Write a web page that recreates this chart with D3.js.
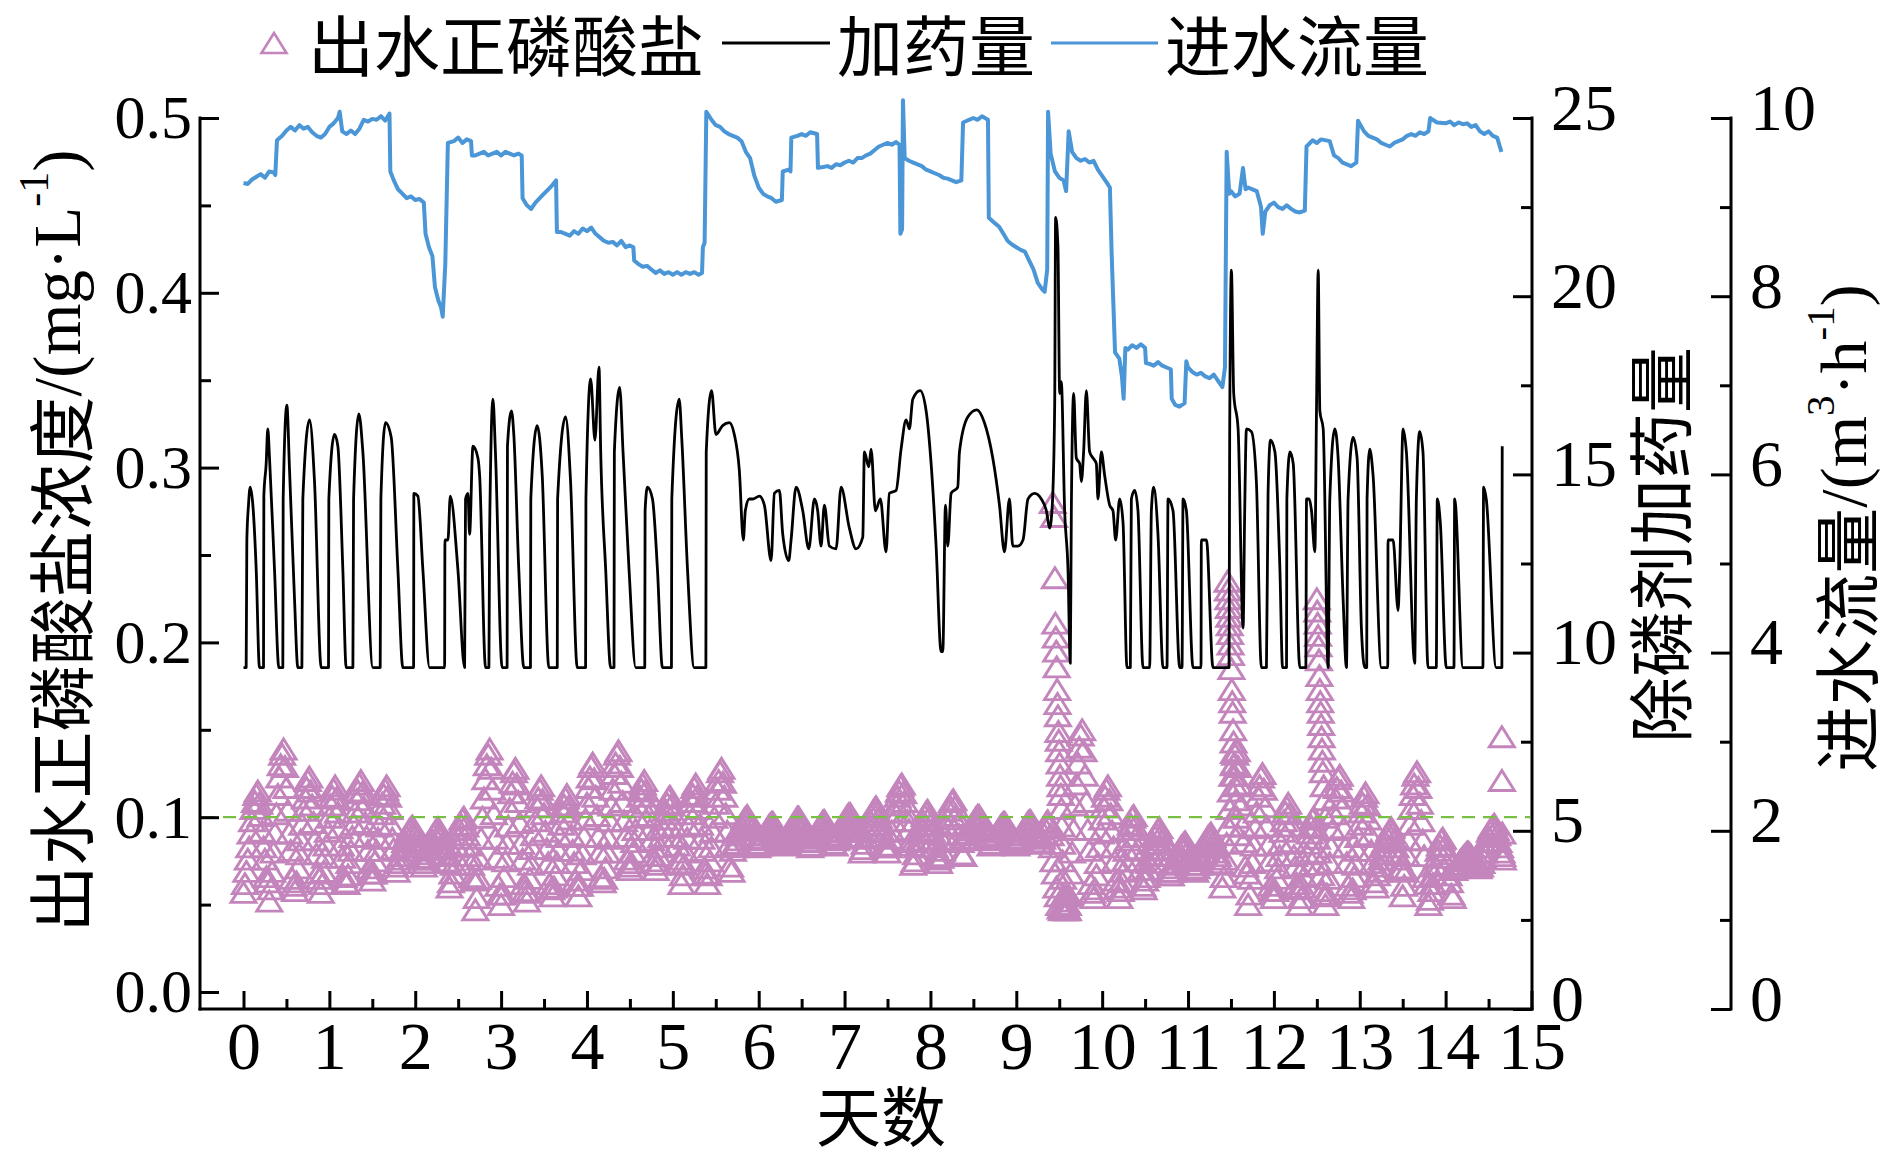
<!DOCTYPE html>
<html><head><meta charset="utf-8">
<script src="https://cdn.jsdelivr.net/npm/d3@7/dist/d3.min.js"></script>
<style>body{margin:0;background:#fff}svg{display:block}</style>
</head><body>
<svg id="c" width="1887" height="1160"></svg>
<script>
// ---------------- DATA ----------------
const xTickValues = [0,1,2,3,4,5,6,7,8,9,10,11,12,13,14,15];
const xTickLabels = ["0","1","2","3","4","5","6","7","8","9","10","11","12","13","14","15"];
const pTickValues = [0,0.1,0.2,0.3,0.4,0.5];
const pTickLabels = ["0.0","0.1","0.2","0.3","0.4","0.5"];
const doseTickValues = [0,5,10,15,20,25];
const flowTickValues = [0,2,4,6,8,10];
const limitValue = 0.1;

const legendLabels = ["出水正磷酸盐","加药量","进水流量"];

// inflow (m3/h): [day, value]
const flowSeries = [
[0,9.27],[0.05,9.26],[0.1,9.31],[0.15,9.34],[0.2,9.37],[0.25,9.33],[0.3,9.40],[0.35,9.39],[0.37,9.36],[0.39,9.75],[0.45,9.80],[0.5,9.86],[0.55,9.90],[0.6,9.86],[0.65,9.92],[0.7,9.88],[0.75,9.90],[0.8,9.84],[0.85,9.80],[0.9,9.78],[0.95,9.82],[1.0,9.90],[1.05,9.94],[1.1,10.0],[1.12,10.07],[1.15,9.85],[1.2,9.82],[1.25,9.86],[1.3,9.82],[1.35,9.88],[1.4,9.98],[1.45,9.96],[1.5,9.99],[1.55,9.98],[1.6,10.02],[1.65,9.97],[1.7,10.05],[1.71,9.40],[1.75,9.30],[1.8,9.20],[1.85,9.15],[1.9,9.10],[1.95,9.12],[2.0,9.08],[2.05,9.09],[2.1,9.05],[2.12,8.70],[2.16,8.55],[2.2,8.45],[2.23,8.10],[2.27,7.95],[2.3,7.88],[2.32,7.77],[2.35,8.36],[2.38,9.72],[2.45,9.74],[2.5,9.78],[2.55,9.72],[2.6,9.76],[2.65,9.74],[2.66,9.58],[2.7,9.58],[2.75,9.60],[2.8,9.62],[2.85,9.58],[2.9,9.60],[2.95,9.62],[3.0,9.58],[3.05,9.62],[3.1,9.60],[3.15,9.58],[3.2,9.60],[3.24,9.58],[3.25,9.10],[3.3,9.02],[3.35,8.98],[3.4,9.05],[3.45,9.10],[3.5,9.15],[3.55,9.20],[3.6,9.25],[3.64,9.30],[3.65,8.72],[3.7,8.72],[3.75,8.70],[3.8,8.68],[3.85,8.73],[3.9,8.70],[3.95,8.76],[4.0,8.73],[4.05,8.77],[4.1,8.70],[4.15,8.66],[4.2,8.62],[4.25,8.60],[4.3,8.61],[4.35,8.57],[4.4,8.62],[4.45,8.55],[4.5,8.57],[4.54,8.55],[4.55,8.40],[4.6,8.36],[4.65,8.33],[4.7,8.34],[4.75,8.30],[4.8,8.26],[4.85,8.29],[4.9,8.25],[4.95,8.27],[5.0,8.24],[5.05,8.27],[5.1,8.24],[5.15,8.27],[5.2,8.25],[5.25,8.27],[5.3,8.24],[5.34,8.26],[5.35,8.55],[5.37,8.60],[5.39,10.07],[5.45,9.98],[5.5,9.92],[5.55,9.90],[5.6,9.85],[5.65,9.82],[5.7,9.80],[5.75,9.78],[5.8,9.74],[5.85,9.62],[5.9,9.55],[5.95,9.35],[6.0,9.22],[6.05,9.15],[6.1,9.12],[6.15,9.10],[6.2,9.06],[6.27,9.08],[6.28,9.40],[6.35,9.42],[6.37,9.40],[6.38,9.78],[6.45,9.80],[6.5,9.82],[6.55,9.80],[6.6,9.84],[6.68,9.82],[6.69,9.44],[6.75,9.45],[6.8,9.46],[6.85,9.44],[6.9,9.48],[6.95,9.47],[7.0,9.50],[7.05,9.52],[7.1,9.50],[7.15,9.55],[7.2,9.55],[7.25,9.58],[7.3,9.60],[7.35,9.64],[7.4,9.68],[7.45,9.70],[7.5,9.72],[7.55,9.70],[7.6,9.73],[7.64,9.70],[7.65,8.70],[7.67,8.75],[7.68,10.2],[7.70,9.55],[7.75,9.52],[7.8,9.50],[7.85,9.48],[7.9,9.46],[7.95,9.42],[8.0,9.40],[8.05,9.38],[8.1,9.36],[8.15,9.33],[8.2,9.32],[8.25,9.30],[8.3,9.28],[8.36,9.30],[8.38,9.95],[8.45,9.98],[8.5,10.0],[8.55,9.98],[8.6,10.02],[8.67,9.98],[8.68,8.88],[8.75,8.82],[8.8,8.78],[8.85,8.70],[8.9,8.62],[8.95,8.58],[9.0,8.55],[9.05,8.52],[9.1,8.50],[9.15,8.40],[9.2,8.30],[9.25,8.15],[9.3,8.08],[9.33,8.05],[9.36,8.30],[9.37,10.07],[9.40,9.60],[9.45,9.40],[9.5,9.33],[9.55,9.30],[9.58,9.18],[9.61,9.85],[9.65,9.62],[9.7,9.55],[9.75,9.52],[9.8,9.54],[9.85,9.50],[9.9,9.52],[9.95,9.42],[10.0,9.35],[10.05,9.28],[10.09,9.22],[10.11,8.49],[10.15,7.37],[10.2,7.30],[10.23,7.10],[10.25,6.85],[10.27,7.42],[10.3,7.40],[10.35,7.45],[10.4,7.42],[10.45,7.46],[10.5,7.42],[10.51,7.25],[10.55,7.24],[10.6,7.22],[10.65,7.26],[10.7,7.22],[10.75,7.20],[10.8,7.18],[10.81,6.85],[10.85,6.78],[10.9,6.76],[10.96,6.80],[10.98,7.27],[11.0,7.20],[11.05,7.15],[11.1,7.12],[11.15,7.14],[11.2,7.10],[11.25,7.08],[11.3,7.12],[11.35,7.05],[11.4,6.98],[11.43,7.20],[11.45,9.62],[11.48,9.15],[11.5,9.18],[11.55,9.12],[11.6,9.15],[11.64,9.44],[11.67,9.20],[11.7,9.22],[11.75,9.20],[11.8,9.18],[11.85,9.00],[11.87,8.70],[11.9,8.95],[11.95,9.02],[12.0,9.05],[12.05,9.00],[12.1,8.98],[12.15,9.02],[12.2,8.98],[12.25,8.95],[12.3,8.94],[12.36,8.96],[12.38,9.68],[12.45,9.75],[12.5,9.72],[12.55,9.76],[12.65,9.74],[12.7,9.58],[12.75,9.55],[12.8,9.50],[12.85,9.48],[12.9,9.46],[12.96,9.50],[12.98,9.97],[13.05,9.85],[13.1,9.80],[13.15,9.78],[13.2,9.76],[13.25,9.72],[13.3,9.70],[13.35,9.68],[13.4,9.72],[13.45,9.74],[13.5,9.76],[13.55,9.80],[13.6,9.82],[13.65,9.80],[13.7,9.84],[13.75,9.82],[13.8,9.85],[13.82,10.0],[13.85,9.98],[13.9,9.95],[14.0,9.94],[14.05,9.96],[14.1,9.92],[14.15,9.95],[14.2,9.93],[14.25,9.94],[14.3,9.90],[14.35,9.92],[14.4,9.85],[14.45,9.82],[14.5,9.85],[14.55,9.80],[14.6,9.78],[14.65,9.62]
];

// dosing: [day, value]
const doseSeries = [
[0,9.58],[0.031,9.58],[0.039,13.16],[0.058,14.14],[0.078,14.64],[0.109,14.14],[0.148,12.33],[0.186,9.58],[0.233,9.58],[0.237,14.39],[0.264,15.30],[0.283,16.28],[0.303,15.46],[0.361,12.33],[0.412,9.58],[0.458,9.58],[0.462,14.31],[0.505,16.94],[0.536,15.13],[0.594,11.51],[0.633,9.58],[0.680,9.58],[0.691,14.31],[0.769,16.53],[0.827,14.80],[0.905,9.58],[0.990,9.58],[0.994,14.31],[1.060,16.12],[1.099,15.79],[1.157,12.33],[1.196,9.58],[1.274,9.58],[1.282,14.31],[1.344,16.70],[1.390,15.63],[1.507,9.58],[1.592,9.58],[1.600,14.31],[1.654,16.45],[1.720,16.04],[1.798,12.33],[1.856,9.58],[1.981,9.58],[1.984,14.47],[2.031,14.39],[2.089,12.33],[2.167,9.58],[2.342,9.58],[2.346,13.16],[2.381,13.16],[2.408,14.39],[2.497,12.33],[2.575,9.58],[2.586,14.31],[2.614,14.47],[2.633,13.32],[2.672,15.79],[2.730,15.46],[2.750,14.97],[2.819,9.58],[2.858,9.58],[2.866,13.32],[2.905,17.11],[2.934,15.63],[3.012,9.58],[3.070,9.58],[3.074,15.79],[3.121,16.78],[3.148,16.12],[3.206,12.33],[3.265,9.58],[3.342,9.58],[3.346,14.31],[3.420,16.37],[3.479,14.97],[3.556,9.58],[3.654,9.58],[3.658,14.31],[3.751,16.61],[3.809,14.80],[3.887,9.58],[3.984,9.58],[3.988,14.31],[4.043,17.68],[4.093,15.96],[4.140,18.01],[4.160,15.63],[4.218,12.33],[4.276,9.58],[4.315,9.58],[4.319,15.63],[4.381,17.44],[4.420,15.63],[4.490,12.33],[4.568,9.58],[4.673,9.58],[4.677,13.98],[4.704,14.64],[4.763,14.31],[4.821,12.33],[4.879,9.58],[4.984,9.58],[4.988,14.31],[5.074,17.11],[5.105,15.96],[5.171,12.33],[5.249,9.58],[5.385,9.58],[5.389,15.63],[5.451,17.35],[5.502,16.12],[5.580,16.37],[5.658,16.45],[5.716,16.12],[5.774,15.13],[5.821,13.16],[5.844,13.98],[5.891,14.31],[5.930,14.31],[6.008,14.39],[6.066,14.14],[6.144,12.58],[6.183,14.47],[6.241,14.55],[6.280,13.32],[6.350,12.58],[6.377,13.16],[6.435,14.64],[6.513,13.98],[6.583,12.91],[6.649,14.31],[6.687,13.98],[6.726,12.99],[6.765,14.14],[6.823,12.99],[6.901,12.91],[6.959,14.64],[7.056,13.49],[7.134,12.91],[7.212,13.24],[7.231,15.63],[7.282,15.21],[7.309,15.71],[7.359,13.98],[7.417,14.31],[7.483,12.83],[7.522,14.47],[7.600,14.55],[7.658,15.71],[7.717,16.53],[7.755,16.28],[7.794,17.11],[7.880,17.35],[7.950,16.78],[8.008,15.30],[8.066,12.99],[8.124,10.03],[8.144,10.03],[8.175,14.14],[8.202,12.99],[8.241,14.47],[8.318,14.64],[8.338,15.63],[8.435,16.61],[8.540,16.81],[8.629,16.45],[8.726,15.46],[8.804,14.14],[8.862,12.83],[8.920,14.31],[8.959,12.99],[9.019,12.99],[9.078,13.16],[9.136,14.31],[9.214,14.47],[9.291,14.31],[9.350,13.98],[9.388,13.49],[9.419,14.14],[9.447,16.94],[9.458,22.21],[9.485,21.39],[9.505,17.27],[9.524,17.6],[9.563,13.98],[9.602,12.33],[9.629,9.70],[9.641,13.98],[9.668,17.27],[9.699,15.46],[9.738,15.30],[9.757,14.80],[9.784,15.63],[9.816,17.35],[9.854,15.63],[9.893,15.46],[9.932,15.30],[9.951,14.31],[9.990,15.63],[10.029,14.97],[10.087,14.14],[10.126,13.98],[10.157,13.16],[10.204,14.31],[10.243,13.65],[10.289,9.58],[10.328,9.58],[10.340,14.31],[10.379,14.55],[10.417,13.98],[10.476,9.58],[10.553,9.58],[10.573,13.98],[10.600,14.64],[10.650,13.32],[10.709,9.58],[10.755,9.58],[10.767,14.31],[10.825,13.98],[10.903,9.58],[10.930,9.58],[10.942,14.31],[10.981,13.98],[11.058,9.58],[11.151,9.58],[11.155,13.16],[11.214,13.16],[11.291,9.58],[11.478,9.58],[11.485,16.12],[11.505,20.73],[11.532,17.27],[11.583,16.28],[11.641,10.69],[11.660,13.98],[11.680,16.28],[11.738,16.20],[11.796,14.80],[11.854,9.58],[11.913,9.58],[11.932,14.47],[11.960,15.96],[12.012,15.63],[12.070,12.33],[12.101,9.58],[12.147,9.58],[12.151,14.31],[12.186,15.63],[12.225,15.30],[12.302,9.58],[12.372,9.58],[12.380,14.31],[12.411,14.31],[12.438,13.98],[12.477,12.83],[12.496,16.78],[12.516,20.73],[12.535,16.78],[12.574,16.28],[12.632,9.58],[12.651,14.31],[12.709,16.28],[12.748,15.46],[12.806,11.51],[12.845,9.58],[12.864,14.31],[12.922,16.04],[12.969,15.46],[13.019,10.69],[13.058,9.58],[13.081,9.58],[13.085,14.31],[13.116,15.71],[13.155,14.97],[13.252,9.58],[13.326,9.58],[13.329,13.16],[13.388,13.16],[13.446,11.18],[13.465,12.33],[13.504,16.28],[13.543,15.63],[13.640,9.70],[13.659,14.31],[13.698,16.20],[13.736,15.63],[13.795,9.58],[13.891,9.58],[13.903,14.31],[13.938,13.65],[14.008,9.58],[14.097,9.58],[14.105,14.31],[14.202,9.58],[14.434,9.58],[14.442,14.64],[14.473,14.31],[14.589,9.58],[14.655,9.58],[14.659,15.79]
];

// effluent orthophosphate (mg/L), sampled every 1/30 day from day 0
const phosphateStep = 1/30;
const phosphateVals = [
.057,.069,.083,.098,.109,.115,.101,.083,.066,
.052,.069,.091,.113,.130,.139,.117,.091,.065,
.058,.071,.087,.104,.117,.123,.107,.087,.068,
.057,.069,.084,.100,.112,.118,.103,.084,.066,
.062,.074,.089,.103,.115,.121,.106,.089,.071,
.064,.075,.088,.102,.113,.118,.105,.088,.072,
.074,.078,.083,.089,.093,.095,.090,.083,.077,
.072,.076,.082,.087,.092,.094,.089,.082,.075,
.060,.068,.078,.088,.096,.100,.090,.078,.066,
.047,.065,.088,.111,.130,.139,.116,.088,.061,
.050,.066,.085,.105,.120,.128,.109,.085,.062,
.052,.065,.082,.098,.111,.118,.102,.082,.062,
.055,.067,.081,.096,.107,.113,.099,.081,.064,
.055,.070,.089,.108,.123,.131,.112,.089,.066,
.065,.080,.098,.116,.131,.138,.120,.098,.076,
.070,.080,.093,.106,.116,.121,.108,.093,.078,
.070,.078,.089,.099,.108,.112,.102,.089,.076,
.062,.073,.088,.102,.113,.119,.105,.088,.071,
.062,.075,.092,.108,.121,.128,.112,.092,.072,
.081,.085,.090,.095,.099,.101,.096,.090,.084,
.084,.087,.090,.093,.096,.097,.094,.090,.086,
.084,.087,.091,.095,.098,.100,.096,.091,.086,
.083,.086,.090,.094,.096,.098,.094,.089,.085,
.087,.090,.094,.098,.101,.102,.098,.094,.089,
.080,.085,.092,.098,.103,.106,.100,.092,.084,
.080,.088,.098,.107,.115,.119,.109,.098,.086,
.073,.079,.087,.095,.101,.104,.096,.087,.078,
.074,.081,.090,.099,.106,.110,.101,.090,.079,
.087,.090,.093,.097,.100,.101,.098,.093,.089,
.084,.087,.090,.093,.096,.097,.094,.090,.086,
.084,.087,.090,.094,.097,.098,.095,.090,.086,
.088,.094,.098,.090,.075,.060,.050,.047,.052,
.047,.068,.093,.119,.140,.150,.124,.093,.062,
.054,.067,.083,.099,.112,.118,.102,.083,.064,
.054,.063,.075,.087,.096,.101,.089,.075,.061,
.064,.070,.078,.085,.091,.094,.087,.078,.069,
.067,.071,.076,.080,.084,.086,.081,.076,.070,
.071,.075,.080,.085,.089,.091,.086,.080,.074,
.060,.076,.095,.115,.130,.138,.119,.095,.072,
.050,.065,.084,.103,.118,.125,.106,.084,.061,
.054,.065,.078,.092,.103,.108,.095,.078,.062,
.050,.060,.073,.085,.095,.100,.088,.073,.058,
.050,.065,.083,.102,.117,.124,.106,.083,.061,
.054,.066,.081,.096,.108,.114,.099,.081,.063,
.067,.072,.079,.086,.091,.094,.087,.079,.071,
.055,.069,.087,.105,.119,.126,.108,.087,.066,
.050,.058,.067,.077,.084,.088,.079,.067,.056,
.070,.072,.075,.077,.079,.080,.078,.075,.072,
.072,.077,.083,.089,.094,.096,.090,.083,.076
];
// readings taken half a step later than the ones above (day = (i+0.5)/30)
const phosphateValsHalf = [
.062,.076,.091,.105,.113,.108,.092,.076,.063,
.059,.080,.102,.123,.136,.129,.104,.081,.061,
.063,.079,.096,.111,.121,.115,.097,.079,.065,
.062,.077,.092,.107,.116,.111,.094,.077,.063,
.067,.081,.096,.110,.119,.114,.097,.081,.068,
.068,.081,.095,.108,.116,.112,.096,.082,.069,
.076,.081,.086,.091,.094,.092,.087,.081,.076,
.074,.079,.085,.090,.093,.091,.085,.079,.074,
.063,.073,.083,.093,.099,.095,.084,.073,.064,
.054,.076,.100,.122,.136,.128,.102,.077,.056,
.056,.075,.095,.114,.126,.119,.097,.076,.058,
.057,.073,.090,.106,.116,.110,.092,.074,.059,
.060,.074,.089,.103,.111,.106,.090,.074,.061,
.061,.079,.099,.117,.129,.122,.101,.080,.063,
.071,.088,.107,.125,.136,.129,.109,.089,.072,
.074,.086,.100,.112,.119,.115,.101,.087,.075,
.073,.083,.094,.104,.111,.107,.095,.084,.074,
.067,.080,.095,.109,.117,.112,.096,.081,.068,
.067,.083,.100,.116,.126,.120,.102,.084,.069,
.083,.087,.093,.097,.100,.099,.093,.088,.083,
.085,.088,.092,.095,.097,.095,.092,.088,.085,
.085,.089,.093,.097,.100,.098,.094,.089,.086,
.084,.088,.092,.095,.098,.096,.092,.088,.084,
.088,.092,.096,.099,.102,.100,.096,.092,.089,
.082,.088,.095,.101,.105,.103,.096,.089,.083,
.083,.092,.103,.112,.118,.114,.103,.093,.084,
.075,.083,.091,.098,.103,.100,.092,.083,.076,
.077,.086,.095,.104,.109,.106,.096,.086,.078,
.088,.091,.095,.098,.101,.099,.095,.092,.088,
.085,.088,.092,.095,.097,.095,.092,.088,.085,
.085,.088,.092,.095,.098,.096,.092,.089,.085,
.091,.097,.095,.083,.068,.055,.048,.049,.055,
.055,.080,.107,.131,.147,.138,.109,.081,.057,
.059,.074,.091,.106,.116,.110,.092,.075,.060,
.058,.069,.081,.093,.100,.095,.082,.070,.059,
.066,.074,.081,.089,.093,.090,.082,.074,.067,
.069,.073,.078,.083,.085,.084,.078,.073,.069,
.073,.077,.083,.087,.090,.089,.083,.078,.073,
.066,.085,.105,.124,.136,.129,.107,.086,.068,
.056,.074,.094,.112,.123,.116,.095,.075,.058,
.058,.071,.085,.098,.106,.102,.086,.072,.059,
.054,.066,.079,.091,.099,.094,.080,.067,.055,
.056,.074,.093,.111,.122,.115,.094,.074,.057,
.059,.073,.089,.103,.112,.107,.090,.074,.060,
.069,.076,.083,.089,.093,.091,.083,.076,.070,
.061,.078,.096,.113,.124,.117,.098,.078,.062,
.053,.062,.072,.081,.087,.083,.073,.063,.054,
.071,.073,.076,.078,.080,.079,.076,.073,.071,
.074,.080,.086,.092,.095,.093,.086,.080
];
// extra dense readings during the three spikes and at the last time point: [day, value]
const phosphateExtra = [
[9.425,0.280],[9.44,0.272],[9.45,0.237],[9.455,0.211],[9.46,0.203],[9.465,0.195],[9.47,0.186],[9.475,0.173],[9.48,0.165],[9.485,0.158],[9.49,0.149],[9.495,0.144],[9.50,0.138],[9.505,0.131],[9.51,0.124],[9.515,0.118],[9.52,0.113],[9.525,0.105],[9.53,0.095],[9.535,0.085],[9.54,0.075],[9.545,0.065],[9.55,0.055],[9.56,0.048],[9.58,0.047],[9.60,0.050],
[11.46,0.235],[11.465,0.230],[11.47,0.225],[11.475,0.220],[11.48,0.215],[11.485,0.210],[11.49,0.205],[11.495,0.199],[11.50,0.193],[11.505,0.185],[11.51,0.173],[11.515,0.166],[11.52,0.160],[11.525,0.150],[11.53,0.143],[11.535,0.137],[11.54,0.131],[11.545,0.124],[11.55,0.118],[11.56,0.110],[11.57,0.100],[11.58,0.090],
[12.50,0.225],[12.505,0.218],[12.51,0.211],[12.515,0.204],[12.52,0.198],[12.525,0.190],[12.53,0.181],[12.535,0.173],[12.54,0.166],[12.545,0.160],[12.55,0.153],[12.555,0.146],[12.56,0.139],[12.565,0.132],[12.57,0.126],[12.58,0.118],[12.59,0.110],[12.60,0.100],
[14.655,0.146],[14.655,0.121],[14.66,0.091],[14.66,0.078]
];

// ---------------- DRAW ----------------
const PINK = "#c385bc", BLUE = "#4b96d6", GREEN = "#77c043";
const SERIF = "'Liberation Serif','Times New Roman',serif";
const CJK = "'Liberation Serif','Noto Sans CJK SC',serif";

const svg = d3.select("#c");
const x  = d3.scaleLinear().domain([0,15]).range([243.5,1531.5]);
const yP = d3.scaleLinear().domain([0,0.5]).range([992,118]);
const yD = d3.scaleLinear().domain([0,25]).range([1009,118]);
const yF = d3.scaleLinear().domain([0,10]).range([1009,118]);

const axL = 200, axB = 1009, axR1 = 1532, axR2 = 1731, axT = 118;

// phosphate triangles
const pPoints = phosphateVals.map((v,i)=>[i*phosphateStep, v])
  .concat(phosphateValsHalf.map((v,i)=>[(i+0.5)*phosphateStep, v]))
  .concat(phosphateExtra);
const tri = "M0,-10L12.5,10L-12.5,10Z";
svg.append("g").selectAll("path").data(pPoints).join("path")
  .attr("d", tri)
  .attr("transform", d=>`translate(${x(d[0])},${yP(d[1])})`)
  .attr("fill","none").attr("stroke",PINK).attr("stroke-width",2.9);

// limit line
svg.append("line").attr("x1",axL+2).attr("x2",axR1-2)
  .attr("y1",yP(limitValue)).attr("y2",yP(limitValue))
  .attr("stroke",GREEN).attr("stroke-width",2.2).attr("stroke-dasharray","13,8");

// dose line
svg.append("path").datum(doseSeries)
  .attr("d", d3.line().curve(d3.curveMonotoneX).x(d=>x(d[0])).y(d=>yD(d[1])))
  .attr("fill","none").attr("stroke","#000").attr("stroke-width",2.8).attr("stroke-linejoin","round");

// flow line
svg.append("path").datum(flowSeries)
  .attr("d", d3.line().x(d=>x(d[0])).y(d=>yF(d[1])))
  .attr("fill","none").attr("stroke",BLUE).attr("stroke-width",4).attr("stroke-linejoin","round");

// ---- axes ----
function styleAxis(g, fs){
  g.select(".domain").remove();
  g.selectAll(".tick line").attr("stroke","#000").attr("stroke-width",3);
  g.selectAll("text").attr("font-family",SERIF).attr("font-size",fs).attr("fill","#000");
}
const gl = svg.append("g").attr("transform",`translate(${axL},0)`)
  .call(d3.axisLeft(yP).tickValues(pTickValues).tickFormat((d,i)=>pTickLabels[i]).tickSizeInner(-19).tickSizeOuter(0).tickPadding(8));
styleAxis(gl, 62);
const glm = svg.append("g").attr("transform",`translate(${axL},0)`)
  .call(d3.axisLeft(yP).tickValues([0.05,0.15,0.25,0.35,0.45]).tickFormat("").tickSizeInner(-11).tickSizeOuter(0));
styleAxis(glm, 10);
const gb = svg.append("g").attr("transform",`translate(0,${axB})`)
  .call(d3.axisBottom(x).tickValues(xTickValues).tickFormat((d,i)=>xTickLabels[i]).tickSizeInner(-18).tickSizeOuter(0).tickPadding(12));
styleAxis(gb, 68);
const gbm = svg.append("g").attr("transform",`translate(0,${axB})`)
  .call(d3.axisBottom(x).tickValues(d3.range(0.5,15,1)).tickFormat("").tickSizeInner(-10).tickSizeOuter(0));
styleAxis(gbm, 10);
const gr1 = svg.append("g").attr("transform",`translate(${axR1},0)`)
  .call(d3.axisRight(yD).tickValues(doseTickValues).tickSizeInner(-19).tickSizeOuter(0).tickPadding(19));
styleAxis(gr1, 66);
gr1.selectAll("text").attr("y",-10);
const gr1m = svg.append("g").attr("transform",`translate(${axR1},0)`)
  .call(d3.axisRight(yD).tickValues([2.5,7.5,12.5,17.5,22.5]).tickFormat("").tickSizeInner(-11).tickSizeOuter(0));
styleAxis(gr1m, 10);
const gr2 = svg.append("g").attr("transform",`translate(${axR2},0)`)
  .call(d3.axisRight(yF).tickValues(flowTickValues).tickSizeInner(-20).tickSizeOuter(0).tickPadding(19));
styleAxis(gr2, 66);
gr2.selectAll("text").attr("y",-10);
const gr2m = svg.append("g").attr("transform",`translate(${axR2},0)`)
  .call(d3.axisRight(yF).tickValues([1,3,5,7,9]).tickFormat("").tickSizeInner(-11).tickSizeOuter(0));
styleAxis(gr2m, 10);

const al = svg.append("g").attr("stroke","#000").attr("stroke-width",3).attr("stroke-linecap","square");
al.append("line").attr("x1",axL).attr("x2",axL).attr("y1",axT).attr("y2",axB);
al.append("line").attr("x1",axL).attr("x2",axR1).attr("y1",axB).attr("y2",axB);
al.append("line").attr("x1",axR1).attr("x2",axR1).attr("y1",axT).attr("y2",axB);
al.append("line").attr("x1",axR2).attr("x2",axR2).attr("y1",axT).attr("y2",axB);

// ---- titles ----
const t1 = svg.append("text").attr("transform","translate(57,541) rotate(-90)")
  .attr("text-anchor","middle").attr("dominant-baseline","central")
  .attr("font-family",CJK).attr("font-size",67);
t1.append("tspan").attr("font-family","'Noto Sans CJK SC'").text("出水正磷酸盐浓度");
t1.append("tspan").text("/(mg·L");
t1.append("tspan").attr("font-size",42).attr("dy",-23).text("-1");
t1.append("tspan").attr("dy",23).text(")");

svg.append("text").attr("transform","translate(1657,545) rotate(-90)")
  .attr("text-anchor","middle").attr("dominant-baseline","central")
  .attr("font-family","'Noto Sans CJK SC'").attr("font-size",66).text("除磷剂加药量");

const t3 = svg.append("text").attr("transform","translate(1843,528) rotate(-90)")
  .attr("text-anchor","middle").attr("dominant-baseline","central")
  .attr("font-family",CJK).attr("font-size",66);
t3.append("tspan").attr("font-family","'Noto Sans CJK SC'").text("进水流量");
t3.append("tspan").text("/(m");
t3.append("tspan").attr("font-size",41).attr("dy",-23).text("3");
t3.append("tspan").attr("dy",23).text("·h");
t3.append("tspan").attr("font-size",41).attr("dy",-23).text("-1");
t3.append("tspan").attr("dy",23).text(")");

svg.append("text").attr("x",881).attr("y",1113)
  .attr("text-anchor","middle").attr("dominant-baseline","central")
  .attr("font-family","'Noto Sans CJK SC'").attr("font-size",65).text("天数");

// ---- legend ----
const lg = svg.append("g");
lg.append("path").attr("d",tri).attr("transform","translate(274,43)")
  .attr("fill","none").attr("stroke",PINK).attr("stroke-width",2.6);
lg.append("text").attr("x",308).attr("y",42).attr("dominant-baseline","central")
  .attr("font-family","'Noto Sans CJK SC'").attr("font-size",66).text(legendLabels[0]);
lg.append("line").attr("x1",722).attr("x2",830).attr("y1",43).attr("y2",43).attr("stroke","#000").attr("stroke-width",3);
lg.append("text").attr("x",837).attr("y",42).attr("dominant-baseline","central")
  .attr("font-family","'Noto Sans CJK SC'").attr("font-size",66).text(legendLabels[1]);
lg.append("line").attr("x1",1051).attr("x2",1158).attr("y1",43).attr("y2",43).attr("stroke",BLUE).attr("stroke-width",3);
lg.append("text").attr("x",1165).attr("y",42).attr("dominant-baseline","central")
  .attr("font-family","'Noto Sans CJK SC'").attr("font-size",66).text(legendLabels[2]);
</script>
</body></html>
